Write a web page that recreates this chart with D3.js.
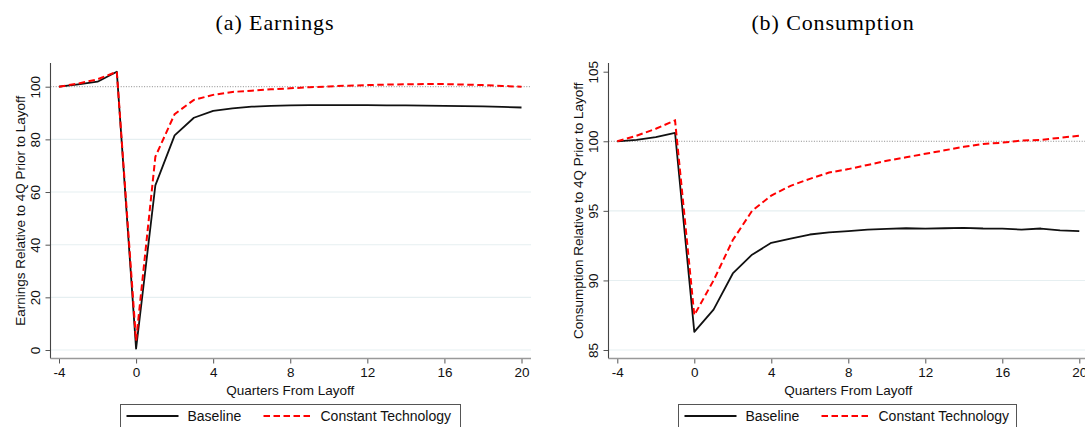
<!DOCTYPE html>
<html>
<head>
<meta charset="utf-8">
<script src="https://cdn.jsdelivr.net/npm/d3@7"></script>
<style>
  html, body { margin: 0; padding: 0; background: #fff; }
  svg { display: block; }
</style>
</head>
<body>
<svg id="chart" width="1085" height="427"></svg>
<script>
// Quarters relative to layoff
const quarters = [-4,-3,-2,-1,0,1,2,3,4,5,6,7,8,9,10,11,12,13,14,15,16,17,18,19,20];

// Panel (a): earnings, index = 100 four quarters before layoff
const earningsBaseline = [100,100.9,101.9,105.7,0.5,62.5,81.5,88.2,90.8,91.8,92.4,92.7,92.9,93.0,93.0,93.0,93.0,92.9,92.9,92.8,92.7,92.6,92.5,92.3,92.1];
const earningsConstTech = [100,101.2,102.8,105.7,3.5,73.4,89.6,95.0,96.9,98.0,98.5,99.0,99.4,99.8,100.1,100.4,100.6,100.8,100.9,101.0,101.0,100.8,100.6,100.3,100.0];

// Panel (b): consumption, index = 100 four quarters before layoff
const consBaseline = [100,100.1,100.3,100.6,86.3,87.9,90.5,91.85,92.7,93.0,93.3,93.45,93.55,93.65,93.7,93.75,93.72,93.75,93.78,93.73,93.72,93.65,93.73,93.6,93.55];
const consConstTech = [100,100.4,100.9,101.5,87.5,90.0,92.9,95.0,96.1,96.8,97.3,97.75,98.0,98.3,98.6,98.85,99.1,99.35,99.6,99.8,99.9,100.05,100.1,100.25,100.4];

// Axis ticks and labels
const xTicks = [-4,0,4,8,12,16,20];
const earningsTicks = [0,20,40,60,80,100];
const consTicks = [85,90,95,100,105];
const seriesNames = ["Baseline","Constant Technology"];

const svg = d3.select("#chart");
const sans = "'Liberation Sans', Arial, sans-serif";
const serif = "'Liberation Serif', 'Times New Roman', serif";
const plainNum = d => String(d);

function panel(opt) {
  const g = svg.append("g");
  const x = d3.scaleLinear().domain([-4,20]).range(opt.xRange);
  const y = d3.scaleLinear().domain(opt.yDomain).range(opt.yRange);

  // title
  g.append("text")
    .attr("x", opt.titleX).attr("y", 30)
    .attr("text-anchor", "middle")
    .style("font-family", serif).style("font-size", "22px")
    .style("letter-spacing", "0.9px").style("fill", "#000")
    .text(opt.title);

  // horizontal grid lines; 100 gets a dotted reference line instead
  g.selectAll("line.grid").data(opt.gridTicks)
    .join("line").attr("class","grid")
    .attr("x1", opt.plotLeft).attr("x2", opt.plotRight)
    .attr("y1", d => y(d)).attr("y2", d => y(d))
    .attr("stroke", "#e6eff1").attr("stroke-width", 1.1);

  // reference line at 100
  g.append("line")
    .attr("x1", opt.plotLeft).attr("x2", opt.plotRight)
    .attr("y1", y(100)).attr("y2", y(100))
    .attr("stroke", "#8a8a8a").attr("stroke-width", 1)
    .attr("stroke-dasharray", "1,1.6");

  // y axis
  const yAxis = d3.axisLeft(y).tickValues(opt.yTicks).tickSize(5).tickPadding(4).tickFormat(plainNum);
  const ya = g.append("g").attr("transform", `translate(${opt.plotLeft},0)`).call(yAxis);
  ya.select(".domain").remove();
  ya.append("line").attr("x1",0).attr("x2",0).attr("y1",opt.plotTop).attr("y2",opt.plotBottom)
    .attr("stroke","#444").attr("stroke-width",1.1);
  ya.selectAll(".tick line").attr("stroke","#555");
  ya.selectAll(".tick text")
    .attr("x", null).attr("dy", null)
    .style("font-family", sans).style("font-size", "13.5px").style("fill", "#111")
    .attr("text-anchor", "middle")
    .attr("transform", `translate(${opt.yLabelX - opt.plotLeft},0) rotate(-90)`)
    .attr("y", 0).attr("dy", "0.35em");

  // x axis
  const xAxis = d3.axisBottom(x).tickValues(xTicks).tickSize(5).tickPadding(4).tickFormat(plainNum);
  const xa = g.append("g").attr("transform", `translate(0,${opt.plotBottom})`).call(xAxis);
  xa.select(".domain").remove();
  xa.append("line").attr("x1",opt.plotLeft).attr("x2",opt.plotRight).attr("y1",0).attr("y2",0)
    .attr("stroke","#999").attr("stroke-width",1.6);
  xa.selectAll(".tick line").attr("stroke","#555");
  xa.selectAll(".tick text")
    .style("font-family", sans).style("font-size", "13.5px").style("fill", "#111");

  // axis titles
  g.append("text")
    .attr("x", (x(-4)+x(20))/2).attr("y", 395)
    .attr("text-anchor","middle")
    .style("font-family", sans).style("font-size", "13.5px").style("fill","#111")
    .text("Quarters From Layoff");
  g.append("text")
    .attr("transform", `translate(${opt.yTitleX},${(opt.plotTop+opt.plotBottom)/2}) rotate(-90)`)
    .attr("text-anchor","middle").attr("dy","0.35em")
    .style("font-family", sans).style("font-size", "13.5px").style("fill","#111")
    .text(opt.yTitle);

  // series
  const line = d3.line().x((d,i) => x(quarters[i])).y(d => y(d));
  g.append("path").datum(opt.base)
    .attr("d", line).attr("fill","none")
    .attr("stroke","#111").attr("stroke-width",1.8).attr("stroke-linejoin","round");
  g.append("path").datum(opt.alt)
    .attr("d", line).attr("fill","none")
    .attr("stroke","#ff0000").attr("stroke-width",2).attr("stroke-dasharray","6.5,3.5");

  // legend
  const lg = g.append("g");
  lg.append("rect")
    .attr("x", opt.legX).attr("y", 404.5).attr("width", opt.legW).attr("height", 40)
    .attr("fill","#fff").attr("stroke","#555").attr("stroke-width",1);
  const ly = 416;
  lg.append("line").attr("x1", opt.legX+6).attr("x2", opt.legX+58).attr("y1", ly).attr("y2", ly)
    .attr("stroke","#111").attr("stroke-width",1.8);
  lg.append("text").attr("x", opt.legX+67).attr("y", ly).attr("dy","0.35em")
    .style("font-family", sans).style("font-size","14px").style("fill","#111").text(seriesNames[0]);
  lg.append("line").attr("x1", opt.legX+143).attr("x2", opt.legX+192).attr("y1", ly).attr("y2", ly)
    .attr("stroke","#ff0000").attr("stroke-width",2).attr("stroke-dasharray","6.5,3.5");
  lg.append("text").attr("x", opt.legX+200).attr("y", ly).attr("dy","0.35em")
    .style("font-family", sans).style("font-size","14px").style("fill","#111").text(seriesNames[1]);
}

panel({
  title: "(a) Earnings", titleX: 275,
  xRange: [59, 521.5], yDomain: [0,100], yRange: [350, 86.7],
  plotLeft: 50.5, plotRight: 531, plotTop: 63, plotBottom: 358.5,
  yTicks: earningsTicks, gridTicks: [0,20,40,60,80], yLabelX: 35, yTitleX: 20,
  yTitle: "Earnings Relative to 4Q Prior to Layoff",
  base: earningsBaseline, alt: earningsConstTech,
  legX: 120.5, legW: 340
});

panel({
  title: "(b) Consumption", titleX: 833,
  xRange: [617.3, 1079.3], yDomain: [85,105], yRange: [350, 71.7],
  plotLeft: 608.5, plotRight: 1085, plotTop: 63, plotBottom: 358.5,
  yTicks: consTicks, gridTicks: [85,90,95], yLabelX: 593, yTitleX: 578,
  yTitle: "Consumption Relative to 4Q Prior to Layoff",
  base: consBaseline, alt: consConstTech,
  legX: 678.5, legW: 338
});
</script>
</body>
</html>
